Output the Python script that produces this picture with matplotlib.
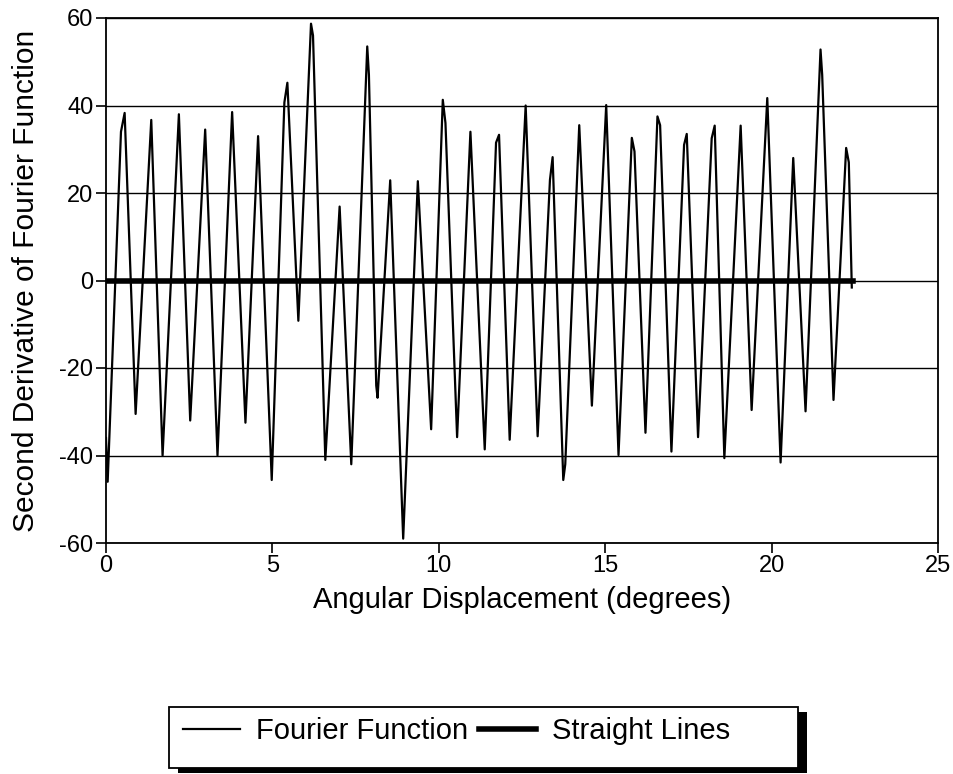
import matplotlib.pyplot as plt
from matplotlib.patches import Rectangle

plt.rcParams['font.family'] = ['Liberation Sans', 'DejaVu Sans']
plt.rcParams['axes.unicode_minus'] = False

# values (peaks, troughs and a few shoulders)
angle = [0.00, 0.05, 0.45, 0.56, 0.89, 1.36, 1.70, 2.19, 2.53, 2.98,
         3.35, 3.79, 4.19, 4.57, 4.98, 5.36, 5.45, 5.78, 6.16, 6.22,
         6.59, 7.02, 7.37, 7.85, 7.90, 8.12, 8.16, 8.54, 8.93, 9.37,
         9.77, 10.12, 10.20, 10.55, 10.95, 11.38, 11.72, 11.81, 12.13, 12.61,
         12.97, 13.34, 13.42, 13.74, 13.80, 14.22, 14.60, 15.03, 15.40, 15.80,
         15.88, 16.21, 16.57, 16.65, 16.99, 17.37, 17.45, 17.79, 18.20, 18.29,
         18.58, 19.07, 19.40, 19.87, 20.27, 20.65, 21.02, 21.47, 21.52, 21.86,
         22.24, 22.32, 22.41]
second_deriv = [-36, -46, 34, 38.3, -30.5, 36.7, -40, 38, -32, 34.5,
                -40, 38.5, -32.5, 33, -45.6, 40.7, 45.2, -9.2, 58.7, 56,
                -41, 16.9, -42, 53.5, 47, -24, -26.8, 22.9, -59, 22.7,
                -34, 41.3, 36, -35.8, 34, -38.6, 31.5, 33.3, -36.4, 40,
                -35.6, 23, 28.2, -45.6, -42, 35.5, -28.6, 40.1, -39.9, 32.6,
                29.5, -34.8, 37.5, 35.5, -39.1, 31, 33.5, -35.8, 32.5, 35.4,
                -40.6, 35.4, -29.6, 41.7, -41.6, 28, -29.9, 52.8, 47, -27.3,
                30.3, 27, -1.6]

straight_x = [0, 22.44]
straight_y = [0, 0]

xticks = [0, 5, 10, 15, 20, 25]
yticks = [-60, -40, -20, 0, 20, 40, 60]

W, H = 954, 774
fig = plt.figure(figsize=(W / 100, H / 100), dpi=100)
ax = fig.add_axes([106 / W, 1 - 543 / H, 832 / W, 525 / H])

for yv in yticks:
    ax.axhline(yv, color='black', lw=1.0, zorder=1)

ax.plot(angle, second_deriv, color='black', lw=1.6, label='Fourier Function', zorder=3)
ax.plot(straight_x, straight_y, color='black', lw=4, label='Straight Lines', zorder=4)

ax.set_xlim(0, 25)
ax.set_ylim(-60, 60)
ax.set_xticks(xticks)
ax.set_yticks(yticks)
ax.tick_params(direction='out', length=7, width=1.2, labelsize=17, pad=2)
for s in ax.spines.values():
    s.set_linewidth(1.3)

ax.set_xlabel('Angular Displacement (degrees)', fontsize=21, labelpad=6)
ax.set_ylabel('Second Derivative of Fourier Function', fontsize=21.5, labelpad=14)

# legend box with a solid drop shadow, drawn by hand like the original
bx0, bx1, by0, by1 = 169, 798, 707, 768
fig.patches.append(Rectangle((bx0 / W + 9 / W, 1 - (by1 + 5) / H), (bx1 - bx0) / W, (by1 - by0) / H,
                             transform=fig.transFigure, facecolor='black', edgecolor='none', zorder=1))
fig.patches.append(Rectangle((bx0 / W, 1 - by1 / H), (bx1 - bx0) / W, (by1 - by0) / H,
                             transform=fig.transFigure, facecolor='white', edgecolor='black',
                             lw=1.3, zorder=2))

leg = fig.legend(loc='center left', bbox_to_anchor=(183 / W, 1 - 731 / H), ncol=2,
                 fontsize=21, handlelength=1.95, handletextpad=0.55, columnspacing=0.38,
                 borderpad=0, borderaxespad=0, frameon=False)

fig.savefig('out.png', dpi=100)
